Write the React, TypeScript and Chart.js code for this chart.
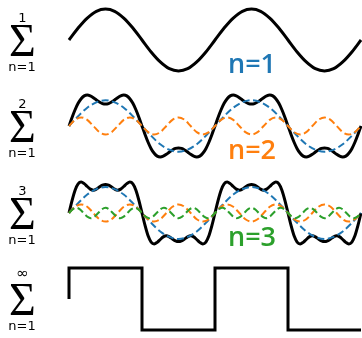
import React, { useEffect, useRef } from "react";
import { Chart, registerables } from "chart.js";
Chart.register(...registerables);

// x values are in units of π; every series is sampled on its own regular step
const X_MAX = 4;

// n=1 component: sin x   (step π/8)
const STEP_BLUE = 1 / 8;
const BLUE = [0, .38, .71, .92, 1, .92, .71, .38, 0, -.38, -.71, -.92, -1, -.92, -.71, -.38,
  0, .38, .71, .92, 1, .92, .71, .38, 0, -.38, -.71, -.92, -1, -.92, -.71, -.38, 0];

// n=2 component: sin 3x / 3   (step π/12)
const STEP_ORANGE = 1 / 12;
const ORANGE = [
  0, .24, .33, .24, 0, -.24, -.33, -.24,
  0, .24, .33, .24, 0, -.24, -.33, -.24,
  0, .24, .33, .24, 0, -.24, -.33, -.24,
  0, .24, .33, .24, 0, -.24, -.33, -.24,
  0, .24, .33, .24, 0, -.24, -.33, -.24,
  0, .24, .33, .24, 0, -.24, -.33, -.24, 0];

// n=3 component: sin 5x / 5   (step π/20)
const STEP_GREEN = 1 / 20;
const GREEN = [
  0, .14, .2, .14, 0, -.14, -.2, -.14,
  0, .14, .2, .14, 0, -.14, -.2, -.14,
  0, .14, .2, .14, 0, -.14, -.2, -.14,
  0, .14, .2, .14, 0, -.14, -.2, -.14,
  0, .14, .2, .14, 0, -.14, -.2, -.14,
  0, .14, .2, .14, 0, -.14, -.2, -.14,
  0, .14, .2, .14, 0, -.14, -.2, -.14,
  0, .14, .2, .14, 0, -.14, -.2, -.14,
  0, .14, .2, .14, 0, -.14, -.2, -.14,
  0, .14, .2, .14, 0, -.14, -.2, -.14, 0];

// partial sums (black)
const STEP_SUM1 = 1 / 8;
const SUM1 = [0, .49, .90, 1.18, 1.27, 1.18, .90, .49, 0, -.49, -.90, -1.18, -1.27, -1.18, -.90, -.49,
  0, .49, .90, 1.18, 1.27, 1.18, .90, .49, 0, -.49, -.90, -1.18, -1.27, -1.18, -.90, -.49, 0];

const STEP_SUM2 = 1 / 24;
const SUM2 = [
  0, .33, .63, .88, 1.06, 1.17, 1.20, 1.17, 1.10, 1.01, .93, .87, .85, .87, .93, 1.01, 1.10, 1.17, 1.20, 1.17, 1.06, .88, .63, .33,
  0, -.33, -.63, -.88, -1.06, -1.17, -1.20, -1.17, -1.10, -1.01, -.93, -.87, -.85, -.87, -.93, -1.01, -1.10, -1.17, -1.20, -1.17, -1.06, -.88, -.63, -.33,
  0, .33, .63, .88, 1.06, 1.17, 1.20, 1.17, 1.10, 1.01, .93, .87, .85, .87, .93, 1.01, 1.10, 1.17, 1.20, 1.17, 1.06, .88, .63, .33,
  0, -.33, -.63, -.88, -1.06, -1.17, -1.20, -1.17, -1.10, -1.01, -.93, -.87, -.85, -.87, -.93, -1.01, -1.10, -1.17, -1.20, -1.17, -1.06, -.88, -.63, -.33,
  0];

const STEP_SUM3 = 1 / 24;
const SUM3 = [
  0, .48, .88, 1.12, 1.19, 1.13, 1.02, .92, .88, .92, 1.00, 1.07, 1.10, 1.07, 1.00, .92, .88, .92, 1.02, 1.13, 1.19, 1.12, .88, .48,
  0, -.48, -.88, -1.12, -1.19, -1.13, -1.02, -.92, -.88, -.92, -1.00, -1.07, -1.10, -1.07, -1.00, -.92, -.88, -.92, -1.02, -1.13, -1.19, -1.12, -.88, -.48,
  0, .48, .88, 1.12, 1.19, 1.13, 1.02, .92, .88, .92, 1.00, 1.07, 1.10, 1.07, 1.00, .92, .88, .92, 1.02, 1.13, 1.19, 1.12, .88, .48,
  0, -.48, -.88, -1.12, -1.19, -1.13, -1.02, -.92, -.88, -.92, -1.00, -1.07, -1.10, -1.07, -1.00, -.92, -.88, -.92, -1.02, -1.13, -1.19, -1.12, -.88, -.48,
  0];

// infinite sum: square wave
const SQUARE_X = [0, 0, 1, 1, 2, 2, 3, 3, 4];
const SQUARE_Y = [0, 1, 1, -1, -1, 1, 1, -1, -1];

const UPPER_LIMITS = ["1", "2", "3", "∞"];
const LOWER_LIMIT = "n=1";
const TERM_LABELS = ["n=1", "n=2", "n=3"];

const BLUE_C = "#1f77b4";
const ORANGE_C = "#ff7f0e";
const GREEN_C = "#2ca02c";

const stepped = (vals: number[], step: number) => vals.map((y, i) => ({ x: i * step, y }));
const paired = (xs: number[], ys: number[]) => xs.map((x, i) => ({ x, y: ys[i] }));

const black = (data: any) => ({
  data, borderColor: "#000", borderWidth: 3, tension: 0, cubicInterpolationMode: "monotone",
  order: 10, clip: false,
});
const dashed = (data: any, color: string, order: number) => ({
  data, borderColor: color, borderWidth: 2, borderDash: [7, 3.5], cubicInterpolationMode: "monotone",
  order, clip: false,
});

const ROW_TOPS = [0, 86, 173, 259];
const ROW_CENTERS = [40, 126, 213, 299];

function Row({ top, datasets, stepLine }: { top: number; datasets: any[]; stepLine?: boolean }) {
  const ref = useRef<HTMLCanvasElement>(null);
  useEffect(() => {
    if (!ref.current) return;
    let m = 0;
    datasets.forEach((d) => d.data.forEach((p: any) => { m = Math.max(m, Math.abs(p.y)); }));
    const lim = m * 1.1;
    const chart = new Chart(ref.current, {
      type: "line",
      data: { datasets },
      options: {
        responsive: false,
        animation: false,
        devicePixelRatio: 1,
        events: [],
        layout: { padding: { left: 6, right: 1, top: 6, bottom: 6 } },
        plugins: { legend: { display: false }, tooltip: { enabled: false } },
        elements: { point: { radius: 0 }, line: { borderCapStyle: "butt", borderJoinStyle: stepLine ? "miter" : "round" } },
        scales: {
          x: { type: "linear", min: 0, max: X_MAX, display: false },
          y: { type: "linear", min: -lim, max: lim, display: false },
        },
      } as any,
    });
    return () => chart.destroy();
  }, []);
  return (
    <canvas ref={ref} width={299} height={80}
      style={{ position: "absolute", left: 63, top, width: 299, height: 80 }} />
  );
}

export default function App() {
  const rows = [
    [black(stepped(SUM1, STEP_SUM1))],
    [black(stepped(SUM2, STEP_SUM2)), dashed(stepped(BLUE, STEP_BLUE), BLUE_C, 2), dashed(stepped(ORANGE, STEP_ORANGE), ORANGE_C, 1)],
    [black(stepped(SUM3, STEP_SUM3)), dashed(stepped(BLUE, STEP_BLUE), BLUE_C, 2), dashed(stepped(ORANGE, STEP_ORANGE), ORANGE_C, 1), dashed(stepped(GREEN, STEP_GREEN), GREEN_C, 0)],
    [{ ...black(paired(SQUARE_X, SQUARE_Y)), cubicInterpolationMode: "default", tension: 0 }],
  ];
  const termColors = [BLUE_C, ORANGE_C, GREEN_C];
  return (
    <div style={{ position: "fixed", left: 0, top: 0, width: 362, height: 338, overflow: "hidden", background: "#fff" }}>
      {rows.map((ds, i) => (
        <Row key={i} top={ROW_TOPS[i]} datasets={ds} stepLine={i === 3} />
      ))}
      <svg width={362} height={338} style={{ position: "absolute", left: 0, top: 0, pointerEvents: "none" }}>
        {ROW_CENTERS.map((c, i) => (
          <g key={i}>
            <text x={22.5} y={c + 15.5} fontFamily="'Liberation Serif', serif" fontSize={46} textAnchor="middle" fill="#000">Σ</text>
            <text x={22.5} y={i === 3 ? c - 21 : c - 18.5} fontFamily="'DejaVu Sans', sans-serif" fontSize={i === 3 ? 15 : 13} textAnchor="middle" fill="#000">{UPPER_LIMITS[i]}</text>
            <text x={22} y={c + 30.5} fontFamily="'DejaVu Sans', sans-serif" fontSize={13} textAnchor="middle" fill="#000">{LOWER_LIMIT}</text>
            {i < 3 && (
              <text x={252} y={c + 33} fontFamily="'Open Sans', sans-serif" fontWeight={600} fontSize={27} textAnchor="middle" fill={termColors[i]}>{TERM_LABELS[i]}</text>
            )}
          </g>
        ))}
      </svg>
    </div>
  );
}
